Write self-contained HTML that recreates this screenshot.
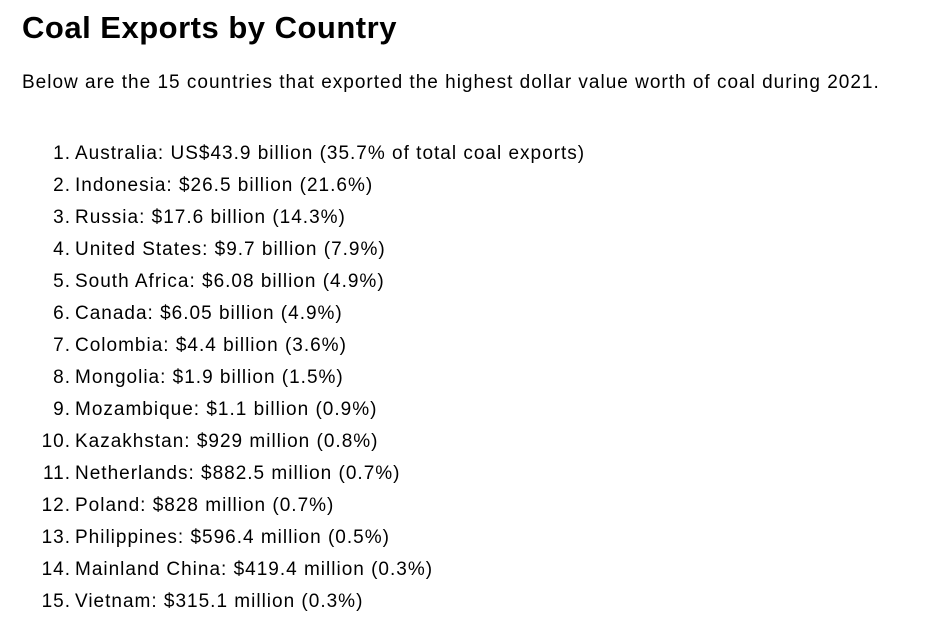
<!DOCTYPE html>
<html><head><meta charset="utf-8">
<style>
body{margin:0;width:936px;height:634px;background:#fff;color:#000;font-family:"Liberation Sans",Arial,sans-serif;position:relative;overflow:hidden}
h1{position:absolute;left:22px;top:12px;margin:0;font-size:31px;line-height:31px;font-weight:bold;letter-spacing:0.5px}
p{position:absolute;left:22px;top:73px;margin:0;font-size:19px;line-height:19px;letter-spacing:1px}
.row{position:absolute;left:0;height:32px;font-size:19px;line-height:32px;white-space:nowrap;letter-spacing:1px}
.num{position:absolute;left:0;width:71px;text-align:right}
.txt{position:absolute;left:75px}
</style></head><body>
<h1>Coal Exports by Country</h1>
<p>Below are the 15 countries that exported the highest dollar value worth of coal during 2021.</p>
<div id="list"></div>
<script>
const items=["Australia: US$43.9 billion (35.7% of total coal exports)","Indonesia: $26.5 billion (21.6%)","Russia: $17.6 billion (14.3%)","United States: $9.7 billion (7.9%)","South Africa: $6.08 billion (4.9%)","Canada: $6.05 billion (4.9%)","Colombia: $4.4 billion (3.6%)","Mongolia: $1.9 billion (1.5%)","Mozambique: $1.1 billion (0.9%)","Kazakhstan: $929 million (0.8%)","Netherlands: $882.5 million (0.7%)","Poland: $828 million (0.7%)","Philippines: $596.4 million (0.5%)","Mainland China: $419.4 million (0.3%)","Vietnam: $315.1 million (0.3%)"];
const list=document.getElementById('list');
items.forEach((t,i)=>{
const r=document.createElement('div');
r.className='row';
r.style.top=(138+i*32)+'px';


r.innerHTML='<span class="num">'+(i+1)+'.</span><span class="txt">'+t+'</span>';
list.appendChild(r);
});
</script>
</body></html>
